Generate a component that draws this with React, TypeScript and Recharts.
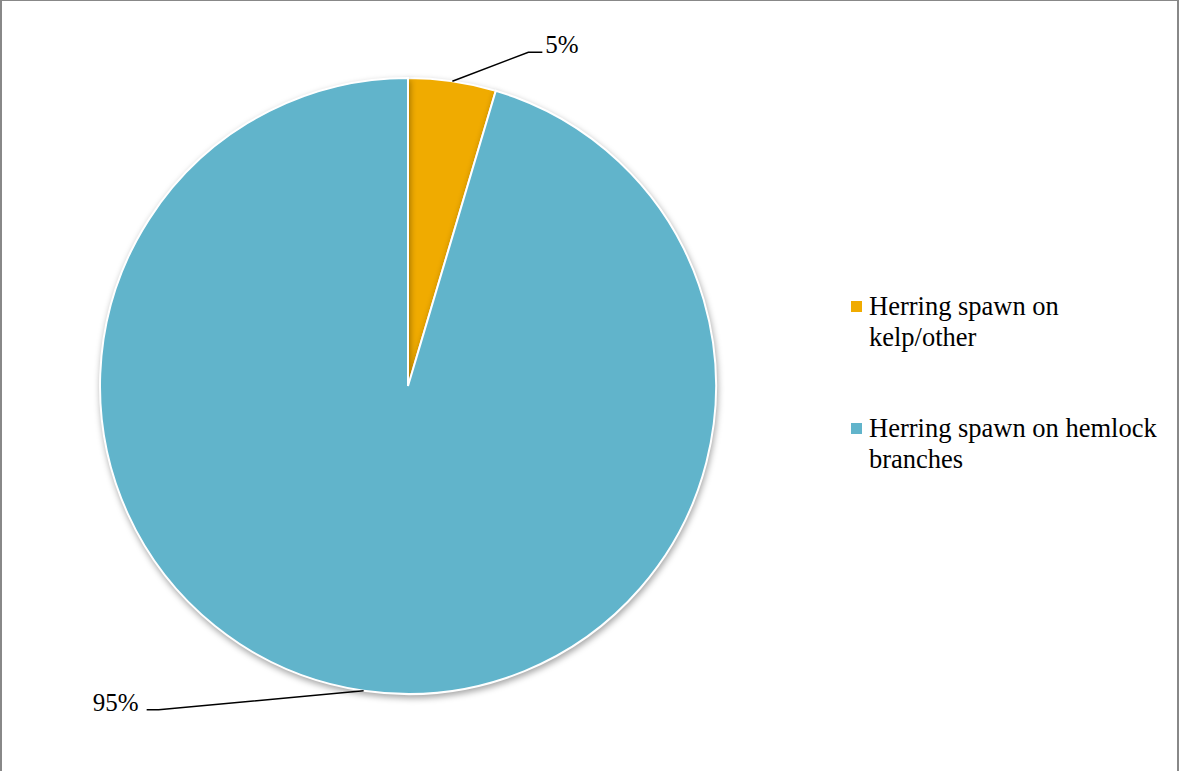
import { Cell, Legend, Pie, PieChart } from "recharts";

const categories = ["Herring spawn on kelp/other", "Herring spawn on hemlock branches"];
const values = [4.6, 95.4];
const colors = ["#F0AB00", "#61B4CB"];

const data = categories.map((name, i) => ({ name, value: values[i] }));

const RAD = Math.PI / 180;
const FONT = "'Liberation Serif', 'Times New Roman', serif";

// where each label line bends, relative to its slice edge point
const labelBends = [
  { dx: 76, dy: -29, run: 14 },
  { dx: -205, dy: 19, run: -12 },
];

const renderLabel = (props: any) => {
  const { cx, cy, midAngle, outerRadius, percent, index } = props;
  const sx = cx + outerRadius * Math.cos(-midAngle * RAD);
  const sy = cy + outerRadius * Math.sin(-midAngle * RAD);
  const b = labelBends[index];
  const mx = sx + b.dx;
  const my = sy + b.dy;
  const ex = mx + b.run;
  const right = b.run > 0;
  return (
    <g>
      <polyline
        points={`${sx},${sy} ${mx},${my} ${ex},${my}`}
        fill="none"
        stroke="#000"
        strokeWidth={1.5}
      />
      <text
        x={right ? ex + 3 : ex - 8}
        y={my + 1}
        textAnchor={right ? "start" : "end"}
        style={{ fontFamily: FONT, fontSize: 25, fill: "#000" }}
      >
        {`${Math.round(percent * 100)}%`}
      </text>
    </g>
  );
};

const renderLegend = () => (
  <div style={{ fontFamily: FONT, fontSize: 26.5, lineHeight: "31px", color: "#000", width: 310 }}>
    {categories.map((name, i) => (
      <div key={name} style={{ display: "flex", alignItems: "flex-start", marginBottom: 60 }}>
        <span
          style={{
            display: "inline-block",
            width: 11,
            height: 11,
            background: colors[i],
            marginTop: 10,
            marginRight: 7,
            flex: "none",
          }}
        />
        <span style={{ width: 292 }}>{name}</span>
      </div>
    ))}
  </div>
);

export default function App() {
  return (
    <div
      style={{
        position: "absolute",
        left: 0,
        top: 0,
        width: 1179,
        height: 771,
        boxSizing: "border-box",
        borderTop: "1px solid #888",
        borderLeft: "2px solid #888",
        borderRight: "2px solid #888",
        background: "#fff",
        overflow: "hidden",
      }}
    >
      <style>{`.recharts-pie-sector { filter: drop-shadow(1px 3px 3px rgba(0,0,0,0.35)); }`}</style>
      <div style={{ position: "absolute", left: -2, top: -1 }}>
        <PieChart width={1180} height={771} margin={{ top: 0, right: 0, bottom: 0, left: 0 }}>
          <Pie
            data={data}
            dataKey="value"
            nameKey="name"
            cx={408}
            cy={386}
            outerRadius={308}
            startAngle={90}
            endAngle={-270}
            stroke="#fff"
            strokeWidth={2}
            label={renderLabel}
            labelLine={false}
            isAnimationActive={false}
          >
            {data.map((d, i) => (
              <Cell key={d.name} fill={colors[i]} />
            ))}
          </Pie>
          <Legend
            content={renderLegend}
            layout="vertical"
            wrapperStyle={{ position: "absolute", left: 851, top: 291, width: 310 }}
          />
        </PieChart>
      </div>
    </div>
  );
}
